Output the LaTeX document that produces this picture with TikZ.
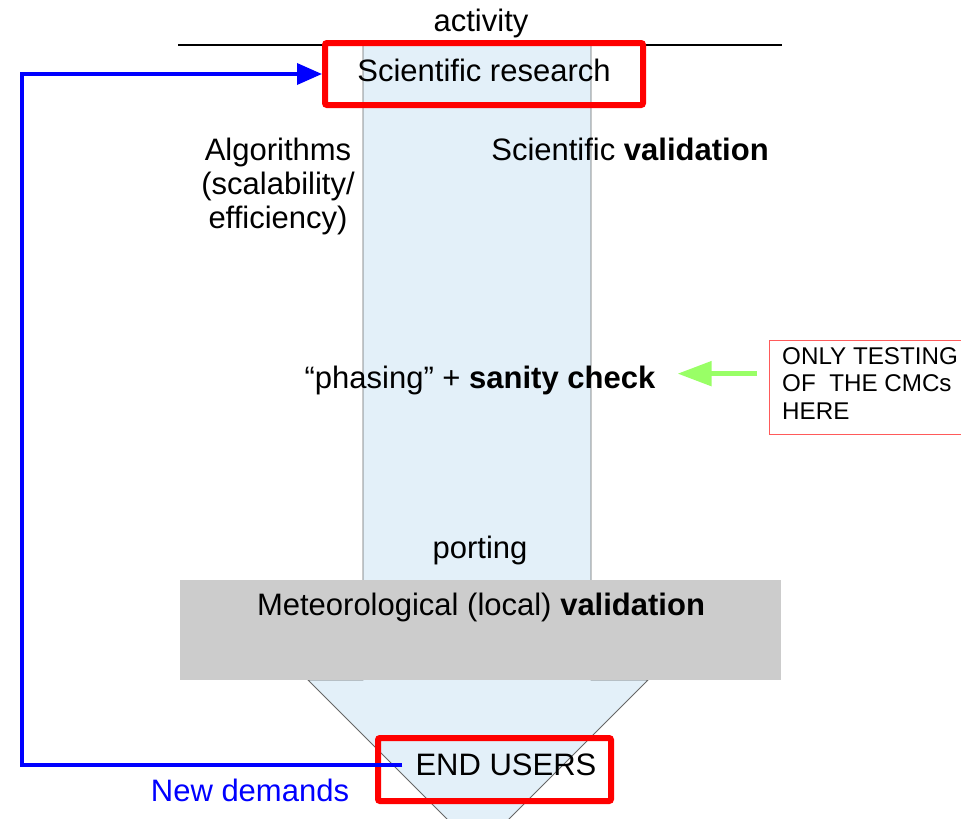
\documentclass[tikz,border=0pt]{standalone}
\usepackage{fontspec}
\setmainfont{Liberation Sans}
\usetikzlibrary{arrows.meta,positioning}
\definecolor{shaftblue}{HTML}{E3F0F9}
\definecolor{boxgray}{HTML}{CCCCCC}
\definecolor{notered}{HTML}{FF5A5A}
\definecolor{testgreen}{HTML}{99FF66}
\tikzstyle{every node}=[font=\fontsize{31}{34}\selectfont,inner sep=0]
\tikzstyle{redbox}=[draw=red,line width=6pt,rounded corners=2pt]
\tikzstyle{demand}=[draw=blue,line width=3.6pt,-{Triangle[length=25pt,width=21pt]}]
\tikzstyle{testarrow}=[draw=testgreen,line width=5pt,-{Triangle[length=34pt,width=24pt]}]
\tikzstyle{notetext}=[font=\fontsize{24.2}{27.5}\selectfont,align=left]

\begin{document}
\begin{tikzpicture}[x=1pt,y=-1pt]
\useasboundingbox (0,0) rectangle (961,819);

% the big arrow
\filldraw[fill=shaftblue,draw=black!60,line width=0.9pt] (363,45) -- (363,680) -- (308,680) -- (478,850) -- (648,680) -- (591,680) -- (591,45) -- cycle;
\draw[line width=2pt] (178,45) -- (782,45);
\node (activity) at (481,23) {activity};

\node[redbox,minimum width=318,minimum height=62,text depth=8pt] (research) at (484,74) {Scientific research};

\node[align=center] (algo) at (278,186) {Algorithms\\(scalability/\\efficiency)\hspace{6pt}};
\node (sciv) at (630,149) {Scientific \textbf{validation}};
\node (sanity) at (480,380) {``phasing'' + \textbf{sanity check}};
\node (porting) at (480,550) {porting};

\node[fill=boxgray,minimum width=601,minimum height=100] (metbox) at (480.5,630) {};
\node (metval) at (481,607) {Meteorological (local) \textbf{validation}};

\node[redbox,minimum width=233,minimum height=63] (usersbox) at (494.5,769.5) {};
\node (users) at (506,765) {END USERS};

% feedback loop
\coordinate (loopbot) at (22,765);
\coordinate (looptop) at (22,74);
\draw[demand,shorten <=13pt] (users.west) -- (loopbot) -- (looptop) -- (research.west);
\node[text=blue] (newdem) at (250,790) {New demands};

% note on the right
\node[draw=notered,line width=1.3pt,minimum width=210,minimum height=94,anchor=north west] (notebox) at (769,340) {};
\node[notetext,anchor=north west] (note) at (782,347) {ONLY TESTING\\OF\ \ THE CMCs\\HERE};
\coordinate[above=14pt of notebox.west] (gstart);
\draw[testarrow,shorten <=12pt,shorten >=22pt] (gstart) -- (gstart -| sanity.east);
\end{tikzpicture}
\end{document}
